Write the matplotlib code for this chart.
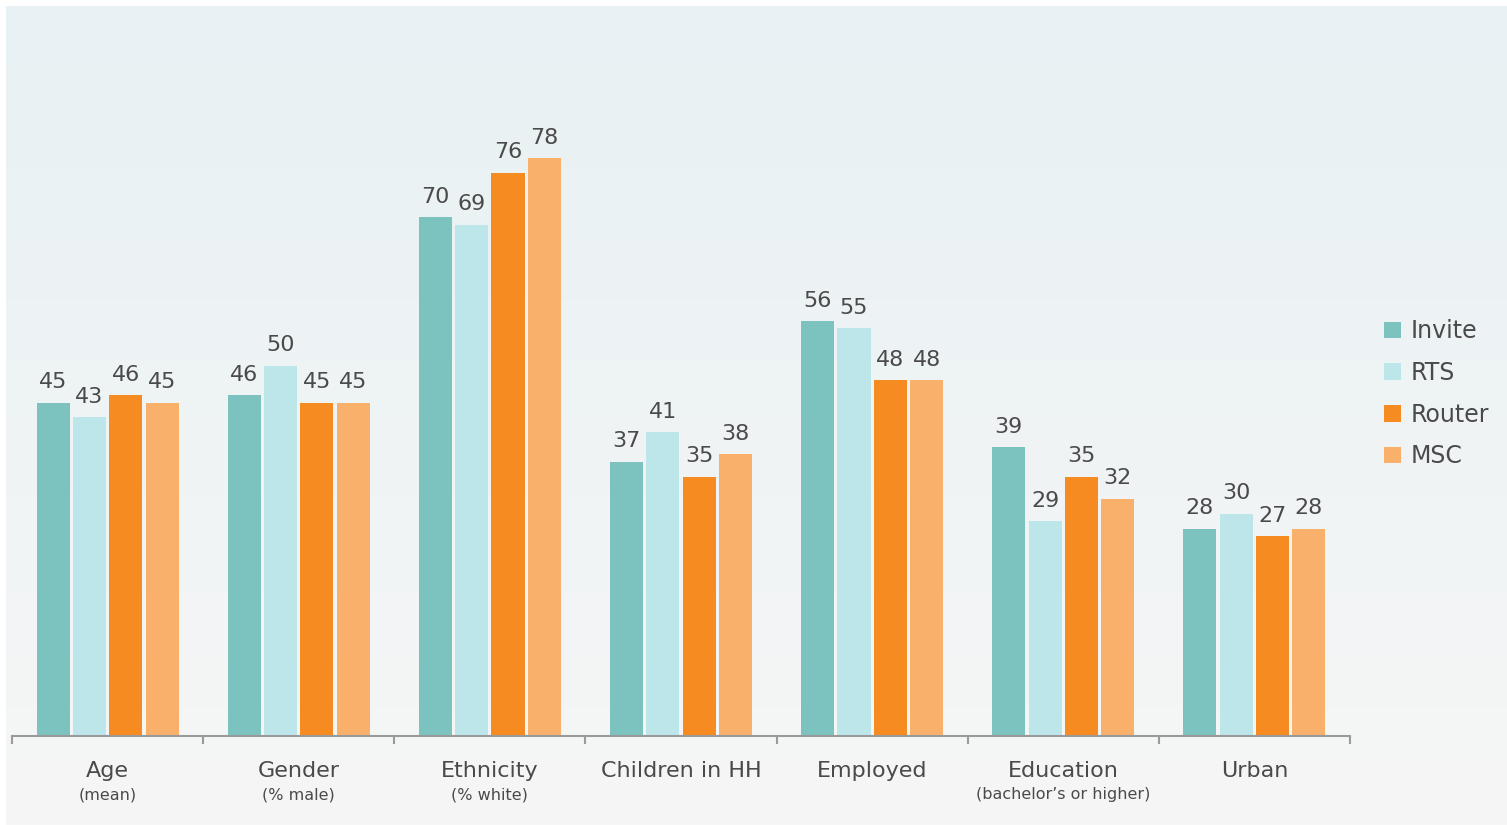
import matplotlib
matplotlib.use("Agg")
import matplotlib.pyplot as plt
import numpy as np
from matplotlib.patches import Patch
from matplotlib.colors import LinearSegmentedColormap

categories = ["Age", "Gender", "Ethnicity", "Children in HH", "Employed", "Education", "Urban"]
sublabels = ["(mean)", "(% male)", "(% white)", "", "", "(bachelor\u2019s or higher)", ""]
series_names = ["Invite", "RTS", "Router", "MSC"]
invite = [45, 46, 70, 37, 56, 39, 28]
rts = [43, 50, 69, 41, 55, 29, 30]
router = [46, 45, 76, 35, 48, 35, 27]
msc = [45, 45, 78, 38, 48, 32, 28]
colors = ["#7cc3c0", "#bde6eb", "#f68b21", "#f9b06b"]

W, H = 1507, 825
fig = plt.figure(figsize=(W / 100, H / 100), dpi=100)
fig.patch.set_facecolor("white")

# gradient background panel
bg = fig.add_axes([6 / W, 0, 1 - 6 / W, 1 - 6 / H])
cmap = LinearSegmentedColormap.from_list("bg", ["#f6f6f6", "#e8f1f3"])
grad = np.linspace(0, 1, 256).reshape(-1, 1)
bg.imshow(grad, aspect="auto", cmap=cmap, origin="lower", extent=[0, 1, 0, 1])
bg.set_axis_off()

px = 7.41
base_y = 736
ymax = 90
ax = fig.add_axes([12 / W, (H - base_y) / H, (1350 - 12) / W, ymax * px / H])
ax.patch.set_alpha(0)

textc = "#4a4a4a"
font = "DejaVu Sans"
step = 0.19
width = 0.173
x = np.arange(len(categories)) + 0.5
all_series = [invite, rts, router, msc]
for k, (vals, c) in enumerate(zip(all_series, colors)):
    pos = x + (k - 1.5) * step
    bars = ax.bar(pos, vals, width=width, color=c, zorder=2)
    for b, v in zip(bars, vals):
        ax.annotate(str(v), (b.get_x() + b.get_width() / 2, v), xytext=(0, 7.5),
                    textcoords="offset points", ha="center", va="bottom",
                    fontsize=16, color=textc, family=font)

ax.set_xlim(0, 7)
ax.set_ylim(0, ymax)
for s in ["top", "right", "left"]:
    ax.spines[s].set_visible(False)
ax.spines["bottom"].set_color("#9a9a9a")
ax.spines["bottom"].set_linewidth(1.5)
ax.set_yticks([])
ax.set_xticks(np.arange(0, 8))
ax.set_xticklabels([])
ax.tick_params(axis="x", length=6, width=1.5, color="#9a9a9a", direction="out")

trans = ax.get_xaxis_transform()
for xi, cat, sub in zip(x, categories, sublabels):
    ax.text(xi, -35 / (ymax * px), cat, transform=trans, ha="center", va="center",
            fontsize=16, color=textc, family=font)
    if sub:
        ax.text(xi, -59 / (ymax * px), sub, transform=trans, ha="center", va="center",
                fontsize=11.5, color=textc, family=font)

handles = [Patch(facecolor=c, edgecolor="none") for c in colors]
fig.legend(handles, series_names, loc="upper left",
           bbox_to_anchor=(1363 / W, 1 - 298 / H), frameon=False,
           handlelength=0.7, handleheight=0.7, handletextpad=0.4,
           labelspacing=0.75, labelcolor=textc, prop={"family": font, "size": 17})

fig.savefig("out.png", dpi=100)
